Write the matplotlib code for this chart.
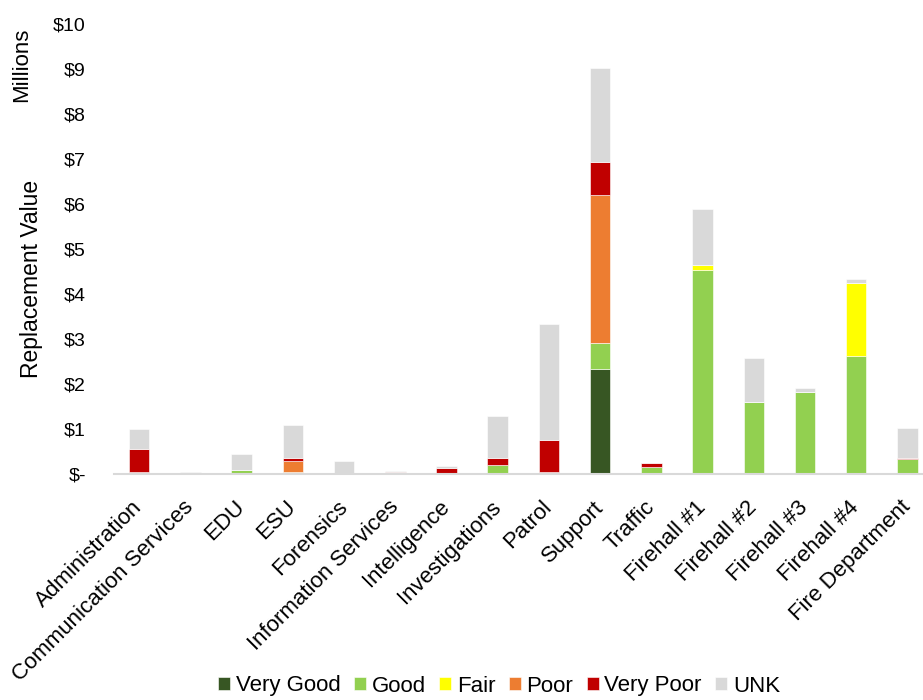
import matplotlib
matplotlib.use("Agg")
import matplotlib.pyplot as plt
from matplotlib.transforms import ScaledTranslation
import numpy as np

plt.rcParams['font.family'] = ['Liberation Sans', 'DejaVu Sans']

categories = ["Administration", "Communication Services", "EDU", "ESU", "Forensics",
              "Information Services", "Intelligence", "Investigations", "Patrol", "Support",
              "Traffic", "Firehall #1", "Firehall #2", "Firehall #3", "Firehall #4",
              "Fire Department"]

# Replacement value by condition, in $ millions
very_good = [0, 0, 0, 0, 0, 0, 0, 0, 0.04, 2.32, 0, 0, 0, 0, 0, 0]
good      = [0.04, 0, 0.07, 0.03, 0, 0, 0, 0.20, 0, 0.58, 0.15, 4.53, 1.60, 1.81, 2.62, 0.32]
fair      = [0, 0, 0, 0, 0, 0, 0, 0, 0, 0, 0, 0.10, 0, 0, 1.61, 0]
poor      = [0, 0, 0, 0.25, 0, 0, 0, 0, 0, 3.29, 0, 0, 0, 0, 0, 0]
very_poor = [0.51, 0, 0, 0.06, 0, 0.04, 0.12, 0.14, 0.70, 0.73, 0.08, 0, 0, 0, 0, 0.03]
unk       = [0.43, 0.04, 0.37, 0.75, 0.28, 0.01, 0.05, 0.94, 2.58, 2.11, 0, 1.25, 0.97, 0.09, 0.10, 0.66]

series = [("Very Good", very_good, "#375623"),
          ("Good", good, "#92D050"),
          ("Fair", fair, "#FFFF00"),
          ("Poor", poor, "#ED7D31"),
          ("Very Poor", very_poor, "#C00000"),
          ("UNK", unk, "#D9D9D9")]

y_ticks = [0, 1, 2, 3, 4, 5, 6, 7, 8, 9, 10]
y_tick_labels = ["$-", "$1", "$2", "$3", "$4", "$5", "$6", "$7", "$8", "$9", "$10"]

W, H = 923, 700
fig = plt.figure(figsize=(W / 100, H / 100), dpi=100)
ax = fig.add_axes([113.6 / W, (H - 473.5) / H, (933 - 113.6) / W, (473.5 - 24) / H])

x = np.arange(len(categories))
bottom = np.zeros(len(categories))
handles = []
for name, vals, color in series:
    vals = np.array(vals, dtype=float)
    b = ax.bar(x, vals, width=0.40, bottom=bottom, color=color, label=name,
               edgecolor="white", linewidth=0.4)
    handles.append(b)
    bottom += vals

ax.set_xlim(-0.5, len(categories) - 0.5)
ax.set_ylim(0, 10)
ax.set_yticks(y_ticks)
ax.set_yticklabels(y_tick_labels, fontsize=14)
ax.set_xticks(x)
ax.set_xticklabels(categories, rotation=45, ha="right", va="center",
                   rotation_mode="anchor", fontsize=16)

# shift the slanted category labels so their ends sit just right of each bar
shift = ScaledTranslation(11 / 100, 0, fig.dpi_scale_trans)
for lab in ax.get_xticklabels():
    lab.set_transform(lab.get_transform() + shift)

for s in ["top", "right", "left"]:
    ax.spines[s].set_visible(False)
ax.spines["bottom"].set_color("#D9D9D9")
ax.spines["bottom"].set_linewidth(1.5)
ax.tick_params(axis="y", length=0, pad=20)
ax.tick_params(axis="x", length=0, pad=22)

fig.text(32 / W, 1 - 279 / H, "Replacement Value", rotation=90, ha="center", va="center", fontsize=16.5)
fig.text(22 / W, 1 - 65 / H, "Millions", rotation=90, ha="center", va="center", fontsize=16)

fig.legend(handles=handles, labels=[s[0] for s in series], loc="center",
           bbox_to_anchor=(499 / W, 1 - 686 / H), ncol=6, frameon=False, fontsize=16,
           handlelength=0.55, handleheight=0.55, handletextpad=0.25, columnspacing=0.6)

fig.savefig("out.png", dpi=100)
